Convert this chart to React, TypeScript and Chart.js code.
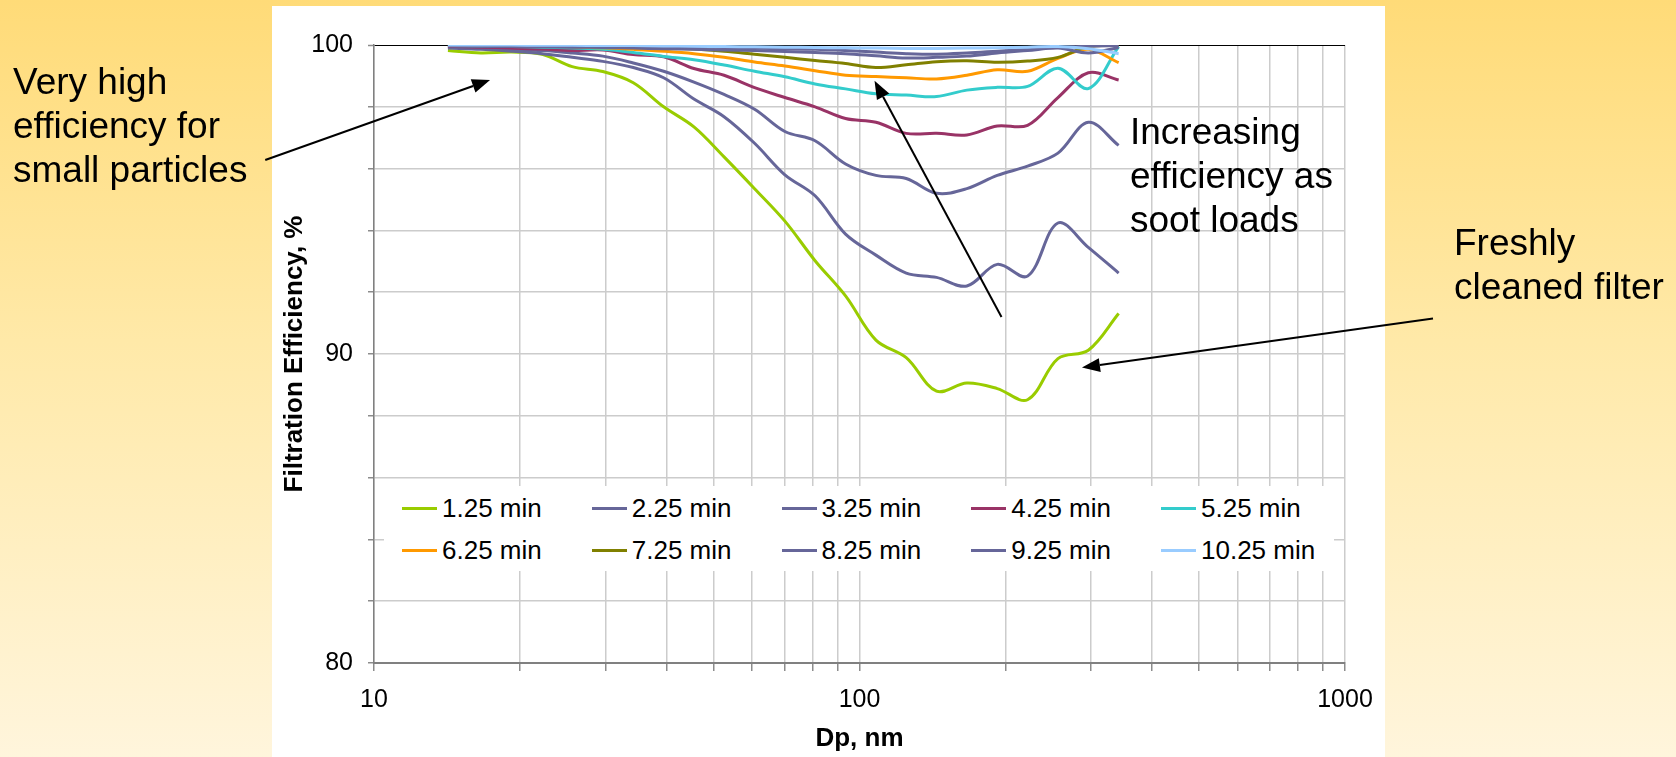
import React, { useEffect, useRef } from 'react';
import { Chart, registerables } from 'chart.js';

Chart.register(...registerables);

// ---- Data ----
const DP_NM = [14.2, 16.6, 19.2, 22.2, 25.6, 29.6, 34.2, 39.5, 45.6, 52.6, 60.8, 70.2, 81.0, 93.6, 108.1, 124.8, 144.1, 166.4, 192.2, 221.9, 256.3, 296.0, 341.8];

const SERIES_LABELS = ['1.25 min', '2.25 min', '3.25 min', '4.25 min', '5.25 min', '6.25 min', '7.25 min', '8.25 min', '9.25 min', '10.25 min'];

const EFF_1_25 = [99.82, 99.74, 99.77, 99.70, 99.30, 99.14, 98.78, 98.00, 97.35, 96.38, 95.35, 94.30, 93.02, 91.88, 90.45, 89.88, 88.80, 89.06, 88.88, 88.52, 89.85, 90.12, 91.31];
const EFF_2_25 = [99.90, 99.86, 99.80, 99.72, 99.60, 99.47, 99.27, 98.94, 98.25, 97.68, 96.82, 95.80, 95.12, 93.88, 93.20, 92.62, 92.48, 92.20, 92.90, 92.52, 94.24, 93.45, 92.62];
const EFF_3_25 = [99.93, 99.90, 99.86, 99.82, 99.74, 99.64, 99.42, 99.15, 98.80, 98.40, 97.92, 97.20, 96.90, 96.15, 95.78, 95.68, 95.20, 95.35, 95.78, 96.08, 96.50, 97.50, 96.75];
const EFF_4_25 = [99.96, 99.93, 99.90, 99.87, 99.82, 99.84, 99.69, 99.62, 99.24, 99.02, 98.62, 98.30, 98.00, 97.62, 97.50, 97.14, 97.14, 97.09, 97.38, 97.40, 98.30, 99.10, 98.87];
const EFF_5_25 = [99.98, 99.97, 99.95, 99.93, 99.90, 99.86, 99.76, 99.63, 99.52, 99.35, 99.15, 98.97, 98.74, 98.58, 98.42, 98.38, 98.33, 98.54, 98.63, 98.66, 99.25, 98.59, 99.95];
const EFF_6_25 = [100.0, 99.99, 99.98, 99.96, 99.94, 99.91, 99.86, 99.80, 99.72, 99.60, 99.45, 99.32, 99.17, 99.02, 98.98, 98.94, 98.90, 99.02, 99.20, 99.15, 99.57, 99.86, 99.43];
const EFF_7_25 = [100.0, 100.0, 99.99, 99.98, 99.97, 99.96, 99.94, 99.91, 99.87, 99.80, 99.70, 99.60, 99.50, 99.40, 99.27, 99.36, 99.46, 99.49, 99.44, 99.48, 99.60, 99.95, 100.0];
const EFF_8_25 = [99.97, 99.96, 99.95, 99.94, 99.93, 99.92, 99.90, 99.88, 99.86, 99.84, 99.82, 99.79, 99.76, 99.72, 99.65, 99.58, 99.60, 99.64, 99.74, 99.82, 99.90, 99.74, 99.92];
const EFF_9_25 = [99.98, 99.98, 99.97, 99.97, 99.96, 99.96, 99.95, 99.94, 99.93, 99.92, 99.90, 99.88, 99.86, 99.82, 99.77, 99.72, 99.70, 99.74, 99.80, 99.86, 99.92, 99.96, 99.98];
const EFF_10_25 = [100.0, 100.0, 100.0, 99.99, 99.99, 99.98, 99.98, 99.97, 99.96, 99.95, 99.94, 99.93, 99.92, 99.91, 99.90, 99.89, 99.89, 99.90, 99.91, 99.93, 99.95, 99.88, 99.72];

const SERIES_VALUES = [EFF_1_25, EFF_2_25, EFF_3_25, EFF_4_25, EFF_5_25, EFF_6_25, EFF_7_25, EFF_8_25, EFF_9_25, EFF_10_25];
const SERIES_COLORS = ['#99CC00', '#666699', '#666699', '#993366', '#33CCCC', '#FF9900', '#808000', '#666699', '#666699', '#99CCFF'];

const X_TICKS = [10, 20, 30, 40, 50, 60, 70, 80, 90, 100, 200, 300, 400, 500, 600, 700, 800, 900, 1000];
const X_TICK_LABELS = [10, 100, 1000];
const Y_MIN = 80;
const Y_MAX = 100;
const Y_STEP = 2;
const Y_TICK_LABELS = [80, 90, 100];

// Annotation arrows in data units: [Dp, efficiency]
const ARROWS = [
  { from: [5.97, 96.28], to: [17.34, 98.87] },
  { from: [196.1, 91.2], to: [107.4, 98.84] },
  { from: [1518, 91.15], to: [287.2, 89.56] },
];

const FONT = "'Liberation Sans', Arial, Helvetica, sans-serif";

const arrowPlugin = {
  id: 'arrowNotes',
  afterDatasetsDraw(chart: any) {
    const { ctx } = chart;
    const xs = chart.scales.x;
    const ys = chart.scales.y;
    ctx.save();
    ctx.strokeStyle = '#000';
    ctx.fillStyle = '#000';
    ctx.lineWidth = 2;
    for (const a of ARROWS) {
      const x0 = xs.getPixelForValue(a.from[0]);
      const y0 = ys.getPixelForValue(a.from[1]);
      const x1 = xs.getPixelForValue(a.to[0]);
      const y1 = ys.getPixelForValue(a.to[1]);
      const ang = Math.atan2(y1 - y0, x1 - x0);
      const L = 18;
      const W = 7;
      const bx = x1 - L * Math.cos(ang);
      const by = y1 - L * Math.sin(ang);
      ctx.beginPath();
      ctx.moveTo(x0, y0);
      ctx.lineTo(bx, by);
      ctx.stroke();
      ctx.beginPath();
      ctx.moveTo(x1, y1);
      ctx.lineTo(bx + W * Math.sin(ang), by - W * Math.cos(ang));
      ctx.lineTo(bx - W * Math.sin(ang), by + W * Math.cos(ang));
      ctx.closePath();
      ctx.fill();
    }
    ctx.restore();
  },
};

const textStyle: React.CSSProperties = {
  position: 'absolute',
  fontFamily: FONT,
  fontSize: 37,
  lineHeight: '44px',
  color: '#000',
  whiteSpace: 'pre',
};

export default function App() {
  const ref = useRef<HTMLCanvasElement>(null);

  useEffect(() => {
    const canvas = ref.current;
    if (!canvas) return;
    const n = SERIES_VALUES.length;
    const chart = new Chart(canvas, {
      type: 'line',
      data: {
        datasets: SERIES_VALUES.map((vals, i) => ({
          label: SERIES_LABELS[i],
          data: DP_NM.map((x, j) => ({ x, y: vals[j] })),
          borderColor: SERIES_COLORS[i],
          backgroundColor: SERIES_COLORS[i],
          borderWidth: 3,
          pointRadius: 0,
          tension: 0.35,
          fill: false,
          order: n - 1 - i,
        })),
      },
      options: {
        responsive: false,
        animation: false,
        devicePixelRatio: 1,
        layout: { padding: { left: 272, right: 331, top: 45, bottom: 0 } },
        plugins: {
          legend: { display: false },
          tooltip: { enabled: false },
        },
        scales: {
          x: {
            type: 'logarithmic',
            position: 'bottom',
            min: 10,
            max: 1000,
            afterBuildTicks: (scale: any) => {
              scale.ticks = X_TICKS.map((v) => ({ value: v }));
            },
            afterFit: (scale: any) => {
              scale.height = 94;
            },
            ticks: {
              autoSkip: false,
              maxRotation: 0,
              padding: 14,
              color: '#000',
              font: { family: FONT, size: 25 },
              callback: (v: any) => (X_TICK_LABELS.includes(Number(v)) ? String(v) : ''),
            },
            grid: {
              color: '#cccccc',
              lineWidth: 1.5,
              tickLength: 8,
              tickColor: '#8c8c8c',
              tickWidth: 1.5,
            },
            border: { display: true, color: '#808080', width: 2 },
            title: {
              display: true,
              text: 'Dp, nm',
              color: '#000',
              font: { family: FONT, size: 26, weight: 'bold' },
              padding: { top: 0, bottom: 3 },
            },
          },
          y: {
            type: 'linear',
            min: Y_MIN,
            max: Y_MAX,
            afterFit: (scale: any) => {
              scale.width = 102;
            },
            ticks: {
              stepSize: Y_STEP,
              padding: 15,
              color: '#000',
              font: { family: FONT, size: 25 },
              callback: (v: any) => (Y_TICK_LABELS.includes(Number(v)) ? String(v) : ''),
            },
            grid: {
              color: (c: any) => (c.tick && c.tick.value === Y_MAX ? '#000000' : '#cccccc'),
              lineWidth: (c: any) => (c.tick && c.tick.value === Y_MAX ? 1 : 1.5),
              tickLength: 6,
              tickColor: '#8c8c8c',
              tickWidth: 1.5,
            },
            border: { display: true, color: '#808080', width: 1.5 },
            title: {
              display: true,
              text: 'Filtration Efficiency, %',
              color: '#000',
              font: { family: FONT, size: 26, weight: 'bold' },
              padding: { top: 7, bottom: 0 },
            },
          },
        },
      },
      plugins: [arrowPlugin],
    } as any);
    return () => chart.destroy();
  }, []);

  const legendCols = 5;
  return (
    <div
      style={{
        position: 'absolute',
        left: 0,
        top: 0,
        width: 1676,
        height: 757,
        overflow: 'hidden',
        background: 'linear-gradient(to bottom, #FFDB78 0%, #FFE9A8 45%, #FFF5DC 100%)',
      }}
    >
      <div style={{ position: 'absolute', left: 272, top: 6, width: 1113, height: 751, background: '#fff' }} />
      <canvas ref={ref} width={1676} height={757} style={{ position: 'absolute', left: 0, top: 0, width: 1676, height: 757 }} />
      <div style={{ ...textStyle, left: 13, top: 60 }}>{'Very high\nefficiency for\nsmall particles'}</div>
      <div style={{ ...textStyle, left: 1130, top: 110 }}>{'Increasing\nefficiency as\nsoot loads'}</div>
      <div style={{ ...textStyle, left: 1454, top: 221 }}>{'Freshly\ncleaned filter'}</div>
      <div style={{ position: 'absolute', left: 384, top: 486, width: 950, height: 85, background: '#fff' }}>
        {SERIES_LABELS.map((lab, i) => {
          const c = i % legendCols;
          const r = Math.floor(i / legendCols);
          return (
            <div
              key={lab}
              style={{
                position: 'absolute',
                left: 18 + c * 189.75,
                top: 7 + r * 42,
                height: 30,
                display: 'flex',
                alignItems: 'center',
                fontFamily: FONT,
                fontSize: 26,
                color: '#000',
                whiteSpace: 'nowrap',
              }}
            >
              <span style={{ display: 'inline-block', width: 35, height: 3, background: SERIES_COLORS[i], marginRight: 5 }} />
              <span>{lab}</span>
            </div>
          );
        })}
      </div>
    </div>
  );
}
